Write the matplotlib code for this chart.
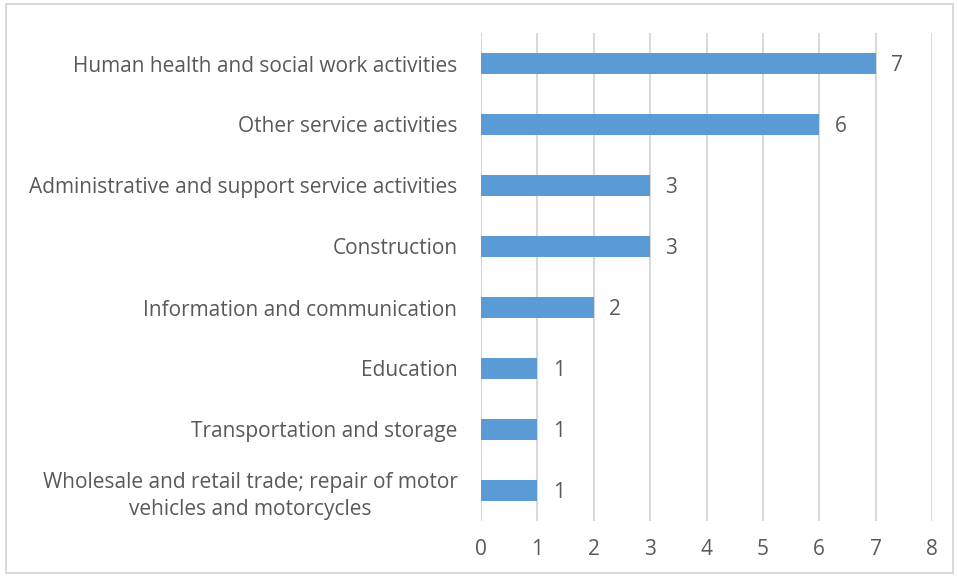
import matplotlib.pyplot as plt
from matplotlib.patches import Rectangle

categories = [
    "Human health and social work activities",
    "Other service activities",
    "Administrative and support service activities",
    "Construction",
    "Information and communication",
    "Education",
    "Transportation and storage",
    "Wholesale and retail trade; repair of motor\nvehicles and motorcycles",
]
values = [7, 6, 3, 3, 2, 1, 1, 1]
xticks = list(range(0, 9))

text_color = "#595959"
grid_color = "#D9D9D9"
bar_color = "#5B9BD5"
fs = 15

plt.rcParams['font.family'] = ['Open Sans', 'DejaVu Sans']

fig = plt.figure(figsize=(9.58, 5.77), dpi=100)
ax = fig.add_axes([481 / 958, 1 - 521 / 577, 451 / 958, 488 / 577])

# light frame around the chart area
fig.patches.append(Rectangle((6 / 958, 4 / 577), 947 / 958, 569 / 577,
                             transform=fig.transFigure, fill=False,
                             edgecolor=grid_color, linewidth=1.5))

ypos = list(range(len(categories)))
ax.barh(ypos, values, height=0.36, color=bar_color, zorder=3)

for y, v in zip(ypos, values):
    ax.annotate(str(v), (v, y), xytext=(11, -1.5), textcoords="offset points",
                va="center", ha="left", fontsize=fs, color=text_color)

ax.set_xlim(0, 8)
ax.set_ylim(len(categories) - 0.5, -0.5)
ax.set_xticks(xticks)
ax.set_yticks(ypos)
ax.set_yticklabels(categories)
for t in ax.get_yticklabels():
    t.set_multialignment("center")
    t.set_linespacing(1.35)

ax.tick_params(axis="both", length=0, labelsize=fs, labelcolor=text_color)
ax.tick_params(axis="y", pad=17)
ax.tick_params(axis="x", pad=13)

ax.xaxis.grid(True, color=grid_color, linewidth=1.5, zorder=0)
for s in ax.spines.values():
    s.set_visible(False)

fig.savefig("out.png", dpi=100)
